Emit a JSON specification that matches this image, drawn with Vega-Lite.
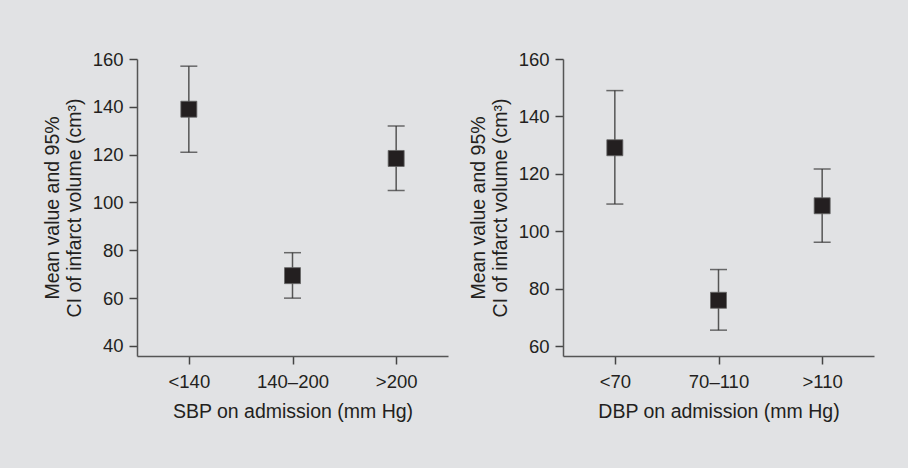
{
  "$schema": "https://vega.github.io/schema/vega-lite/v6.json",
  "padding": {"left": 42, "top": 50, "right": 100, "bottom": 100},
  "background": "#e1e2e4",
  "spacing": 20,
  "config": {
    "view": {"stroke": null},
    "font": "Liberation Sans",
    "axis": {
      "labelFont": "Liberation Sans",
      "titleFont": "Liberation Sans",
      "labelFontSize": 18.5,
      "titleFontSize": 19.5,
      "titleFontWeight": "normal",
      "labelColor": "#231f20",
      "titleColor": "#231f20",
      "domainColor": "#555555",
      "tickColor": "#444444",
      "domainWidth": 1.5,
      "tickWidth": 1.5,
      "tickSize": 8,
      "grid": false
    }
  },
  "datasets": {
    "sbp": [
      {"group": "<140", "mean": 139, "lo": 121, "hi": 157},
      {"group": "140\u2013200", "mean": 69.4, "lo": 60, "hi": 79},
      {"group": ">200", "mean": 118.4, "lo": 105, "hi": 132}
    ],
    "dbp": [
      {"group": "<70", "mean": 129.1, "lo": 109.5, "hi": 149},
      {"group": "70\u2013110", "mean": 76, "lo": 65.6, "hi": 86.7},
      {"group": ">110", "mean": 108.9, "lo": 96.2, "hi": 121.7}
    ]
  },
  "hconcat": [
    {
      "width": 311,
      "height": 297,
      "data": {"name": "sbp"},
      "encoding": {
        "x": {
          "field": "group", "type": "nominal", "sort": ["<140", "140\u2013200", ">200"],
          "scale": {"type": "point", "padding": 0.5},
          "axis": {"labelAngle": 0, "title": "SBP on admission (mm Hg)", "labelPadding": 8, "titlePadding": 12}
        }
      },
      "layer": [
        {
          "mark": {"type": "rule", "color": "#555555", "strokeWidth": 1.5},
          "encoding": {
            "y": {"field": "lo", "type": "quantitative",
              "scale": {"domain": [35.8, 160], "nice": false, "zero": false},
              "axis": {"values": [40, 60, 80, 100, 120, 140, 160], "title": ["Mean value and 95%", "CI of infarct volume (cm\u00b3)"], "titleLineHeight": 22, "labelPadding": 6, "titlePadding": 8}},
            "y2": {"field": "hi"}
          }
        },
        {
          "mark": {"type": "tick", "color": "#333333", "size": 17, "thickness": 1.5},
          "encoding": {"y": {"field": "lo", "type": "quantitative"}}
        },
        {
          "mark": {"type": "tick", "color": "#333333", "size": 17, "thickness": 1.5},
          "encoding": {"y": {"field": "hi", "type": "quantitative"}}
        },
        {
          "mark": {"type": "point", "shape": "square", "size": 256, "filled": true, "color": "#231f20", "opacity": 1, "stroke": "#666666", "strokeWidth": 0.8},
          "encoding": {"y": {"field": "mean", "type": "quantitative"}}
        }
      ]
    },
    {
      "width": 311,
      "height": 297,
      "data": {"name": "dbp"},
      "encoding": {
        "x": {
          "field": "group", "type": "nominal", "sort": ["<70", "70\u2013110", ">110"],
          "scale": {"type": "point", "padding": 0.5},
          "axis": {"labelAngle": 0, "title": "DBP on admission (mm Hg)", "labelPadding": 8, "titlePadding": 12}
        }
      },
      "layer": [
        {
          "mark": {"type": "rule", "color": "#555555", "strokeWidth": 1.5},
          "encoding": {
            "y": {"field": "lo", "type": "quantitative",
              "scale": {"domain": [56.6, 160], "nice": false, "zero": false},
              "axis": {"values": [60, 80, 100, 120, 140, 160], "title": ["Mean value and 95%", "CI of infarct volume (cm\u00b3)"], "titleLineHeight": 22, "labelPadding": 6, "titlePadding": 8}},
            "y2": {"field": "hi"}
          }
        },
        {
          "mark": {"type": "tick", "color": "#333333", "size": 17, "thickness": 1.5},
          "encoding": {"y": {"field": "lo", "type": "quantitative"}}
        },
        {
          "mark": {"type": "tick", "color": "#333333", "size": 17, "thickness": 1.5},
          "encoding": {"y": {"field": "hi", "type": "quantitative"}}
        },
        {
          "mark": {"type": "point", "shape": "square", "size": 256, "filled": true, "color": "#231f20", "opacity": 1, "stroke": "#666666", "strokeWidth": 0.8},
          "encoding": {"y": {"field": "mean", "type": "quantitative"}}
        }
      ]
    }
  ]
}
